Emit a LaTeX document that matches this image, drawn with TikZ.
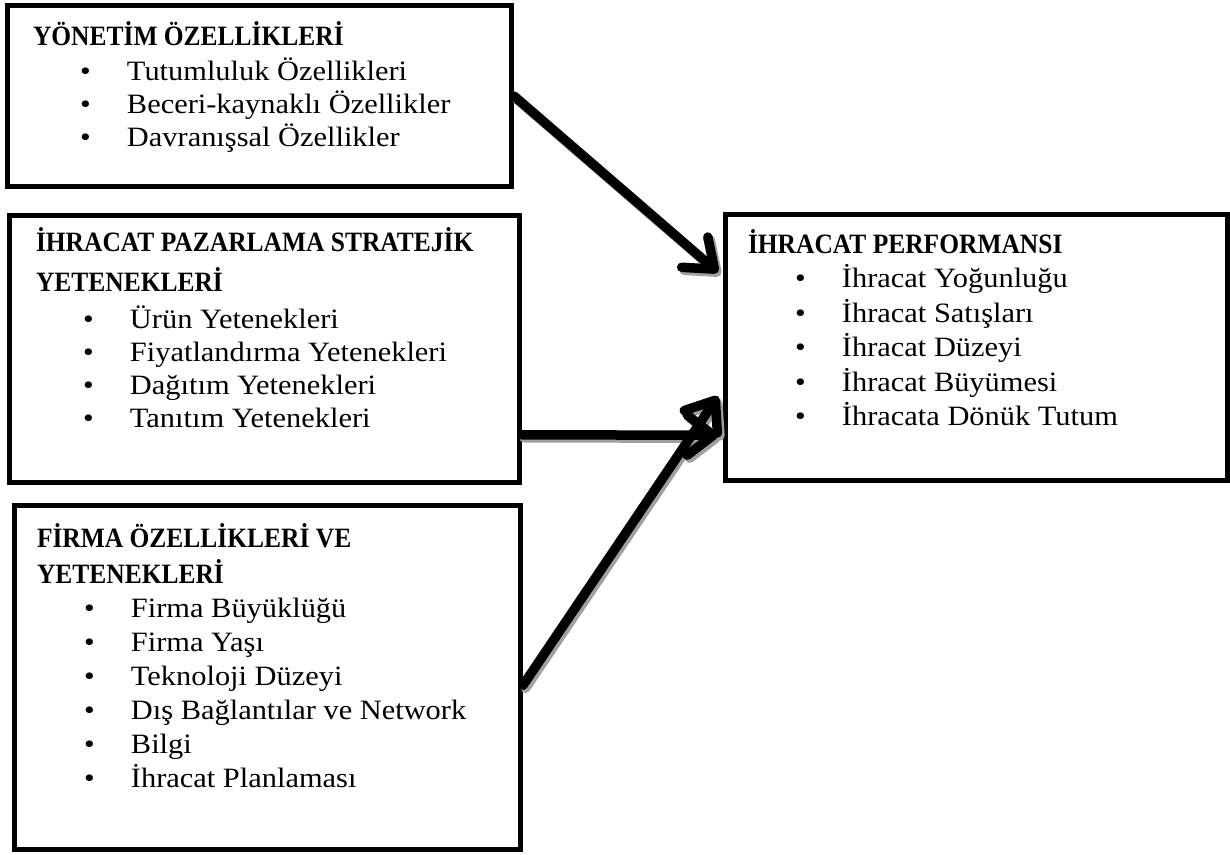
\documentclass[tikz,border=0pt]{standalone}
\usepackage{fontspec}
\setmainfont{Liberation Serif}[FakeStretch=1.086]
\newfontfamily\ttlfont{Liberation Serif}[FakeStretch=0.91]
\usetikzlibrary{arrows.meta}
\definecolor{shadowgray}{HTML}{A0A0A0}
\newcommand\bl[1]{\hspace*{47pt}\makebox[47pt][l]{\textbullet}#1}
\newcommand\hd[1]{{\ttlfont\bfseries\fontsize{28}{33}\selectfont #1}}
\begin{document}
\begin{tikzpicture}[x=1pt,y=-1pt,
  box/.style={draw=black, line width=5pt, rectangle, inner sep=0pt, fill=white},
  txt/.style={anchor=base west, inner sep=0pt, outer sep=0pt},
  conn/.style={line width=9.5pt, line cap=round, -{Straight Barb[length=26pt,width=40pt,round]}},
  shd/.style={conn, draw=shadowgray, transform canvas={shift={(2.5pt,-3pt)}}}
]
\useasboundingbox (0,0) rectangle (1230,854);
% boxes
\node[box, minimum width=504pt, minimum height=181pt] (b1) at (259.5,96) {};
\node[box, minimum width=509.5pt, minimum height=266.5pt] (b2) at (264.25,348.75) {};
\node[box, minimum width=506pt, minimum height=343.5pt] (b3) at (267.5,677.25) {};
\node[box, minimum width=502pt, minimum height=266.5pt] (b4) at (976.5,347.25) {};
% texts
\node[txt, font=\fontsize{28}{33}\selectfont] (t1) at (33,45) {\begin{tabular}[t]{@{}l@{}}
\hd{YÖNETİM ÖZELLİKLERİ}\\[2pt]
\bl{Tutumluluk Özellikleri}\\
\bl{Beceri-kaynaklı Özellikler}\\
\bl{Davranışsal Özellikler}
\end{tabular}};
\node[txt, font=\fontsize{28}{33}\selectfont] (t2) at (36,251) {\begin{tabular}[t]{@{}l@{}}
\hd{İHRACAT PAZARLAMA STRATEJİK}\\[7pt]
\hd{YETENEKLERİ}\\[4pt]
\bl{Ürün Yetenekleri}\\
\bl{Fiyatlandırma Yetenekleri}\\
\bl{Dağıtım Yetenekleri}\\
\bl{Tanıtım Yetenekleri}
\end{tabular}};
\node[txt, font=\fontsize{28}{34}\selectfont] (t3) at (37,547) {\begin{tabular}[t]{@{}l@{}}
\hd{FİRMA ÖZELLİKLERİ VE}\\[2pt]
\hd{YETENEKLERİ}\\
\bl{Firma Büyüklüğü}\\
\bl{Firma Yaşı}\\
\bl{Teknoloji Düzeyi}\\
\bl{Dış Bağlantılar ve Network}\\
\bl{Bilgi}\\
\bl{İhracat Planlaması}
\end{tabular}};
\node[txt, font=\fontsize{28}{34.5}\selectfont] (t4) at (748,253) {\begin{tabular}[t]{@{}l@{}}
\hd{İHRACAT PERFORMANSI}\\
\bl{İhracat Yoğunluğu}\\
\bl{İhracat Satışları}\\
\bl{İhracat Düzeyi}\\
\bl{İhracat Büyümesi}\\
\bl{İhracata Dönük Tutum}
\end{tabular}};
% arrow shadows
\draw[shd] (b1.east) -- ([xshift=-5pt,yshift=75pt]b4.west);
\draw[shd] ([yshift=-86pt]b2.east) -- ([xshift=-5pt,yshift=-88pt]b4.west);
\draw[shd] ([yshift=-8pt]b3.east) -- ([xshift=-5pt,yshift=-49pt]b4.west);
% arrows
\draw[conn] (b1.east) -- ([xshift=-5pt,yshift=75pt]b4.west);
\draw[conn] ([yshift=-86pt]b2.east) -- ([xshift=-5pt,yshift=-88pt]b4.west);
\draw[conn] ([yshift=-8pt]b3.east) -- ([xshift=-5pt,yshift=-49pt]b4.west);
\end{tikzpicture}
\end{document}
